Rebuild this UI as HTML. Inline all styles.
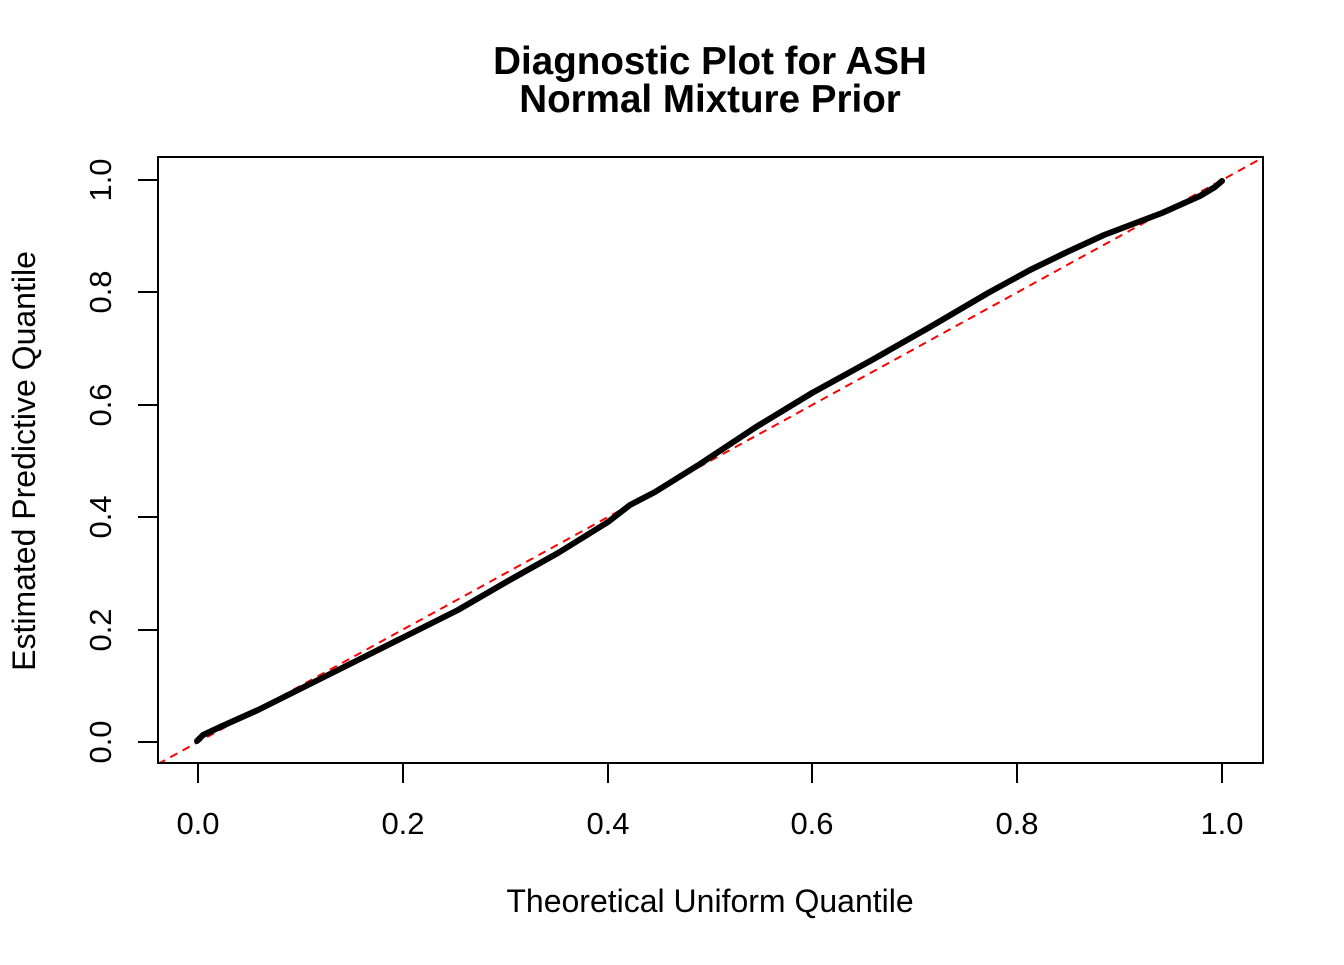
<!DOCTYPE html>
<html><head><meta charset="utf-8"><style>
html,body{margin:0;padding:0;background:#fff;}
</style></head><body>
<svg width="1344" height="960" xmlns="http://www.w3.org/2000/svg" font-family="Liberation Sans, Arial, sans-serif">
<rect width="1344" height="960" fill="#fff"/>
<text x="710" y="74" font-size="38.6" font-weight="bold" text-anchor="middle">Diagnostic Plot for ASH</text>
<text x="710" y="112" font-size="38.6" font-weight="bold" text-anchor="middle">Normal Mixture Prior</text>
<defs><clipPath id="c"><rect x="158" y="157" width="1105" height="606"/></clipPath></defs>
<g clip-path="url(#c)">
<line x1="158" y1="764" x2="1263" y2="157.5" stroke="#ff0000" stroke-width="2" stroke-dasharray="8,6"/>
</g>
<polyline fill="none" stroke="#000" stroke-width="6" stroke-linejoin="round" stroke-linecap="round"
points="197,741 203,735 220,727 258,710 308,685 358,660 408,635 458,610 508,581 558,553 608,522 630,505 655,492 700,464 756,427 812,393 872,360 930,327 988,293 1030,270 1065,253 1104,235 1162,213 1200,196 1215,187 1222,181"/>
<rect x="158" y="157" width="1105" height="606" fill="none" stroke="#000" stroke-width="2"/>
<g stroke="#000" stroke-width="2">
<line x1="198" y1="763" x2="1222" y2="763"/>
<line x1="198" y1="763" x2="198" y2="783"/><line x1="403" y1="763" x2="403" y2="783"/>
<line x1="608" y1="763" x2="608" y2="783"/><line x1="812" y1="763" x2="812" y2="783"/>
<line x1="1017" y1="763" x2="1017" y2="783"/><line x1="1222" y1="763" x2="1222" y2="783"/>
<line x1="158" y1="180" x2="158" y2="742"/>
<line x1="138" y1="742" x2="158" y2="742"/><line x1="138" y1="630" x2="158" y2="630"/>
<line x1="138" y1="517" x2="158" y2="517"/><line x1="138" y1="405" x2="158" y2="405"/>
<line x1="138" y1="292" x2="158" y2="292"/><line x1="138" y1="180" x2="158" y2="180"/>
</g>
<g font-size="31" text-anchor="middle">
<text x="198" y="834">0.0</text><text x="403" y="834">0.2</text><text x="608" y="834">0.4</text>
<text x="812" y="834">0.6</text><text x="1017" y="834">0.8</text><text x="1222" y="834">1.0</text>
<text transform="translate(111,742) rotate(-90)">0.0</text>
<text transform="translate(111,630) rotate(-90)">0.2</text>
<text transform="translate(111,517) rotate(-90)">0.4</text>
<text transform="translate(111,405) rotate(-90)">0.6</text>
<text transform="translate(111,292) rotate(-90)">0.8</text>
<text transform="translate(111,180) rotate(-90)">1.0</text>
</g>
<g font-size="32" text-anchor="middle">
<text x="710" y="912">Theoretical Uniform Quantile</text>
<text transform="translate(35,461) rotate(-90)">Estimated Predictive Quantile</text>
</g>
</svg>
</body></html>
